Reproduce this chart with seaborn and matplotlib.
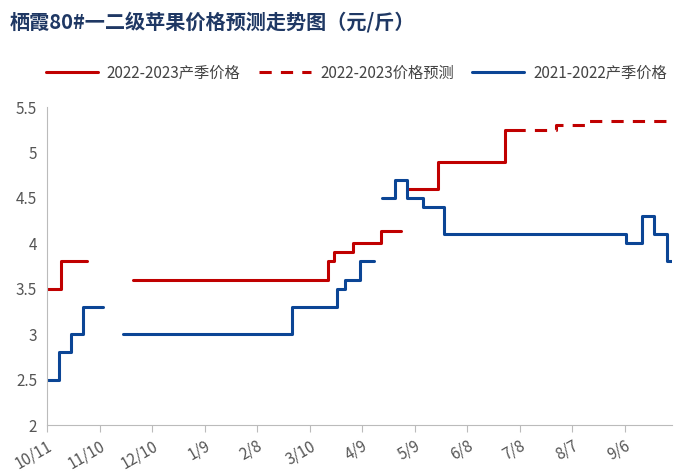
import matplotlib
matplotlib.use("Agg")
import matplotlib.pyplot as plt
import seaborn as sns
import pandas as pd

sns.set_style("white")
plt.rcParams['font.family'] = ['Noto Sans CJK SC', 'DejaVu Sans']

tick_days = [0, 30, 60, 90, 120, 150, 180, 210, 240, 270, 300, 330]
tick_labels = ["10/11", "11/10", "12/10", "1/9", "2/8", "3/10", "4/9", "5/9", "6/8", "7/8", "8/7", "9/6"]

# 2022-2023 actual (segments: step start days, values, end day)
red_segs = [
    ([0, 8], [3.5, 3.8], 23),
    ([49, 160.5, 164, 175, 190.7], [3.6, 3.8, 3.9, 4.0, 4.14], 202),
    ([206, 223.6, 261.7], [4.6, 4.9, 5.25], 266),
]
# 2022-2023 forecast
fc_days = [266, 291, 308]
fc_vals = [5.25, 5.3, 5.35]
fc_end = 357
# 2021-2022
blue_segs = [
    ([0, 7, 13.5, 20.8], [2.5, 2.8, 3.0, 3.3], 32),
    ([43.6, 140, 165.5, 170, 178.5], [3.0, 3.3, 3.5, 3.6, 3.8], 187),
    ([191.6, 198.5, 205.7, 214.7, 226.9, 331, 339.8, 346.9, 354], [4.5, 4.7, 4.5, 4.4, 4.1, 4.0, 4.3, 4.1, 3.8], 357),
]

RED = "#c00000"
BLUE = "#0b4595"

fig = plt.figure(figsize=(7, 4.75), dpi=100)
ax = fig.add_axes([47/700, 1-425/475, (672-47)/700, (425-107)/475])

def draw(days, vals, end, color, ls="-", label=None):
    df = pd.DataFrame({"d": list(days) + [end], "v": list(vals) + [vals[-1]]})
    sns.lineplot(data=df, x="d", y="v", ax=ax, color=color, lw=2.2, linestyle=ls,
                 drawstyle="steps-post", label=label, legend=label is not None)

for i, s in enumerate(red_segs):
    draw(*s, RED, label="2022-2023产季价格" if i == 0 else None)
draw(fc_days, fc_vals, fc_end, RED, ls=(0, (4, 3)), label="2022-2023价格预测")
for i, s in enumerate(blue_segs):
    draw(*s, BLUE, label="2021-2022产季价格" if i == 0 else None)

ax.set_xlim(0, 357)
ax.set_ylim(2, 5.5)
ax.set_yticks([2, 2.5, 3, 3.5, 4, 4.5, 5, 5.5])
ax.set_yticklabels(["2", "2.5", "3", "3.5", "4", "4.5", "5", "5.5"])
ax.set_xticks(tick_days)
ax.set_xticklabels(tick_labels, rotation=30, ha="right", rotation_mode="anchor")
ax.tick_params(axis="both", labelsize=11, colors="#555555")
ax.tick_params(axis="x", length=5, color="#bbbbbb", bottom=True, pad=4)
ax.set_xlabel("")
ax.set_ylabel("")
for sp in ["top", "right"]:
    ax.spines[sp].set_visible(False)
for sp in ["left", "bottom"]:
    ax.spines[sp].set_color("#bbbbbb")

ax.legend(loc="center", bbox_to_anchor=(0.495, 1.107), ncol=3, frameon=False,
          fontsize=11, handlelength=3.4, handletextpad=0.6, columnspacing=1.2, labelcolor="#444444")
fig.text(0.014, 0.953, "栖霞80#一二级苹果价格预测走势图（元/斤）", fontsize=14.5,
         fontweight="bold", color="#1f3864", va="center")

fig.savefig("out.png", dpi=100)
